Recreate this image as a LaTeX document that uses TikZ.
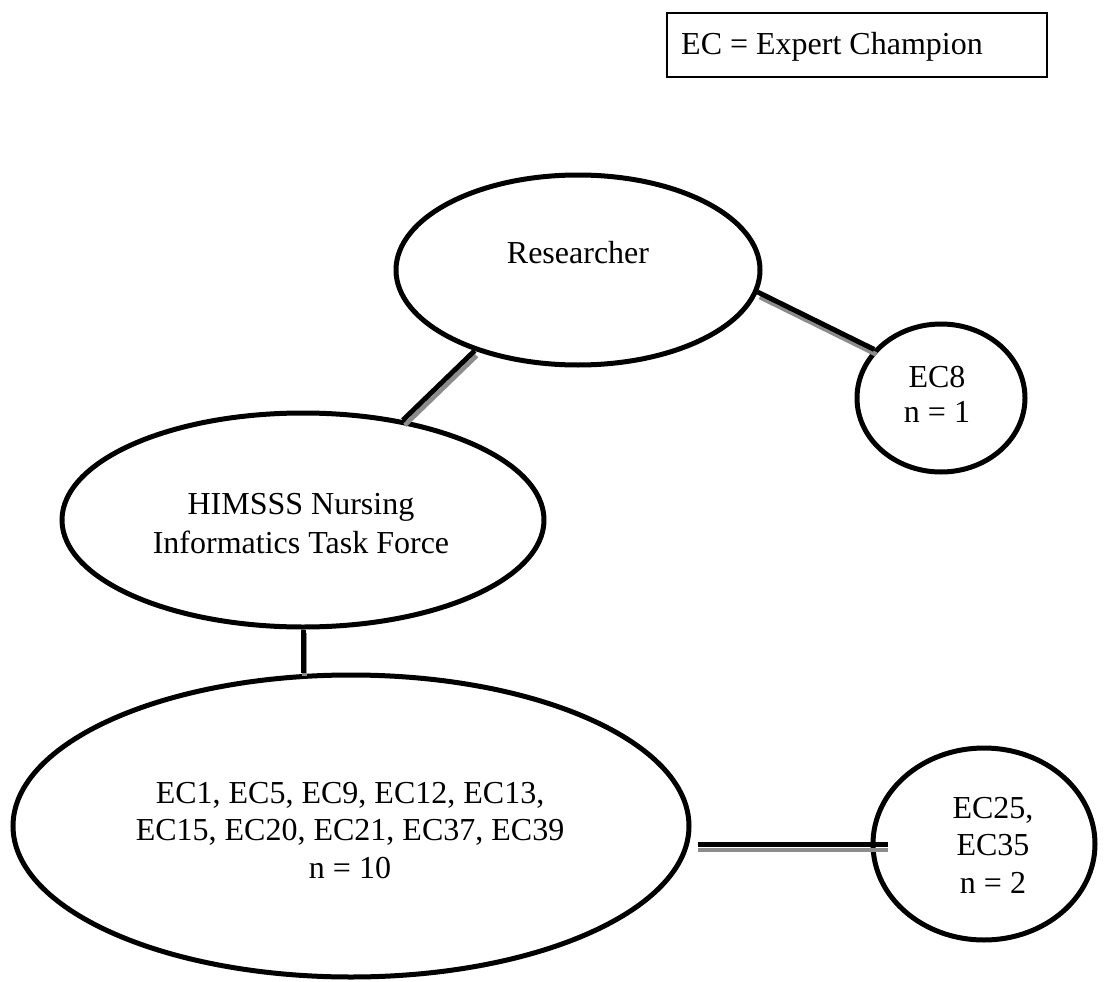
\documentclass[tikz,border=0pt]{standalone}
\usepackage{fontspec}
\setmainfont{Liberation Serif}
\usetikzlibrary{shapes.geometric}
\begin{document}
\begin{tikzpicture}[x=1pt,y=-1pt,
  oval/.style={draw, ellipse, line width=5pt, inner sep=0pt},
  lbl/.style={font=\fontsize{32}{38}\selectfont, inner sep=0pt, anchor=base},
  conn/.style={line width=5pt, black},
  connshadow/.style={line width=4.5pt, black!45},
]
\useasboundingbox (0,0) rectangle (1104,982);
% legend
\node[draw, line width=2pt, minimum width=380pt, minimum height=64pt, inner sep=0pt] (legend) at (857,45) {};
\node[lbl, anchor=base west] (legendtext) at (681,55) {EC = Expert Champion};
% shapes
\node[oval, minimum width=364pt, minimum height=190pt] (res) at (578,270) {};
\node[oval, minimum width=168pt, minimum height=148pt] (ec8) at (941,398) {};
\node[oval, minimum width=482pt, minimum height=214pt] (him) at (303,520) {};
\node[oval, minimum width=676pt, minimum height=302pt] (big) at (351,826) {};
\node[oval, minimum width=222pt, minimum height=192pt] (ec25) at (984,844) {};
% texts
\node[lbl] (restext) at (578,263) {Researcher};
\node[lbl] (ec8a) at (937,387) {EC8};
\node[lbl] (ec8b) at (937,422) {n = 1};
\node[lbl] (hima) at (301,514) {HIMSSS Nursing};
\node[lbl] (himb) at (301,553) {Informatics Task Force};
\node[lbl] (biga) at (350,803) {EC1, EC5, EC9, EC12, EC13,};
\node[lbl] (bigb) at (350,840) {EC15, EC20, EC21, EC37, EC39};
\node[lbl] (bigc) at (350,878) {n = 10};
\node[lbl] (ec25a) at (993,818) {EC25,};
\node[lbl] (ec25b) at (993,855) {EC35};
\node[lbl] (ec25c) at (993,893) {n = 2};
% connectors (shadow first)
\draw[connshadow] ([shift={(2,5)}]res.-142.8) -- ([shift={(2,5)}]him.45);
\draw[conn] (res.-142.8) -- (him.45);
\draw[connshadow] ([shift={(2,5)}]res.-7.9) -- ([shift={(2,5)}]ec8.144.3);
\draw[conn] (res.-7.9) -- (ec8.144.3);
\draw[connshadow] ([shift={(1.5,3)}]him.south) -- ([shift={(1.5,3)}]him.south |- big.north);
\draw[conn] (him.south) -- (him.south |- big.north);
\draw[connshadow] ([shift={(6,6)}]big.east |- ec25.west) -- ([shift={(17,6)}]ec25.west);
\draw[conn] ([xshift=6pt]big.east |- ec25.west) -- ([xshift=17pt]ec25.west);
\end{tikzpicture}
\end{document}
